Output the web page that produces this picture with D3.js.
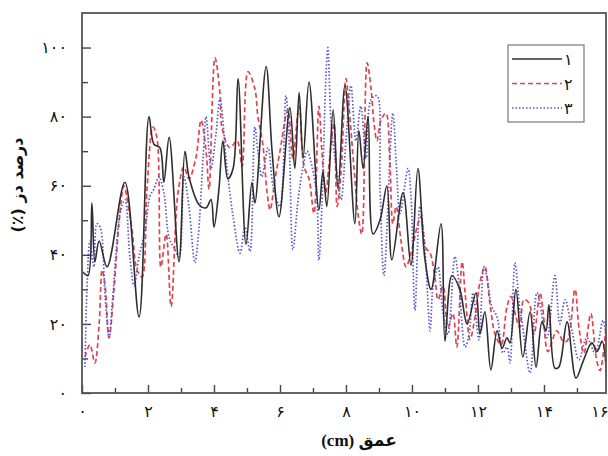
<!DOCTYPE html>
<html>
<head>
<meta charset="utf-8">
<script src="https://cdn.jsdelivr.net/npm/d3@7"></script>
<style>
  body { margin: 0; background: #fff; }
  svg { display: block; }
</style>
</head>
<body>
<svg id="chart" width="608" height="456"></svg>
<script>
// series 1 (solid black)
var depth1 = [0.03,0.18,0.30,0.39,0.52,0.76,1.30,1.73,2.03,2.18,2.36,2.48,2.64,2.94,3.12,3.24,3.55,3.76,3.91,4.00,4.15,4.27,4.42,4.58,4.73,4.97,5.15,5.24,5.58,5.76,5.97,6.30,6.45,6.58,6.70,6.88,7.18,7.30,7.42,7.61,7.76,7.97,8.27,8.39,8.52,8.67,8.82,9.03,9.24,9.39,9.73,9.97,10.18,10.39,10.58,10.88,11.00,11.21,11.45,11.67,11.94,12.06,12.21,12.39,12.58,12.73,12.88,12.97,13.15,13.36,13.58,13.76,13.94,14.06,14.15,14.33,14.45,14.70,14.97,15.18,15.45,15.61,15.76,15.91];
var dose1 = [35,34,55,38,44,36.5,61,22,80,72,71,61,74,38,70,62.6,54.5,53.6,56,48,59,73,62,65,91,43,61,55,94.5,70,51,82.6,65,87,68,90,53,64,54,82,59,89,49,76,65,80,46,50,60,38.5,58,37,65,39,30,49,15,34,30,20,29,17,23.5,6.7,18,13,16,14.5,30,10.4,23.5,7.5,20.6,18,25.5,7.2,7.5,20.6,4.3,9,14.5,12,15,3];

// series 2 (dashed red)
var depth2 = [0.09,0.24,0.39,0.52,0.61,0.70,0.82,0.97,1.12,1.27,1.42,1.52,1.67,1.82,1.97,2.15,2.27,2.39,2.55,2.70,2.91,3.09,3.24,3.45,3.61,3.76,3.85,4.03,4.18,4.24,4.48,4.70,4.85,5.03,5.24,5.33,5.48,5.61,5.70,5.85,6.00,6.24,6.39,6.58,6.73,6.88,7.03,7.18,7.27,7.39,7.48,7.64,7.73,7.85,8.00,8.09,8.24,8.39,8.48,8.64,8.76,8.85,8.94,9.06,9.21,9.33,9.42,9.52,9.67,9.82,9.97,10.18,10.27,10.42,10.55,10.70,10.79,10.94,11.09,11.24,11.36,11.52,11.61,11.76,11.91,12.06,12.21,12.36,12.52,12.70,12.88,13.00,13.15,13.27,13.39,13.55,13.70,13.88,13.97,14.12,14.39,14.58,14.70,14.94,15.06,15.21,15.42,15.58,15.70,15.88];
var dose2 = [10.4,14,8.7,20,35.6,31,16,30,49,60,53,47,35.6,33.6,59,77,74,36.5,46,25,58,65.5,62,68,79,70,59,97,87,77,71,73,65.5,93,88,80,72,58,53,62,70,82,68,83,65.5,62,52,83,70,58,65.5,78,54,64,91,83,65.5,50,46,95.6,88,78,73,79,81,67,49,54,44,36.5,40.5,49,51,42,40.5,33,27,31,19,23,13.3,38,29,15.5,22,32,36.5,26,17,14,25,28,22,19,27,26,17,29,24,12,18,15,15,30,19,11.5,23,10.4,6.5,19];

// series 3 (dotted blue)
var depth3 = [0.09,0.15,0.24,0.36,0.45,0.55,0.70,0.82,0.91,1.06,1.15,1.30,1.45,1.58,1.73,1.91,2.06,2.18,2.33,2.48,2.64,2.79,2.94,3.09,3.24,3.42,3.52,3.67,3.76,3.91,4.06,4.18,4.39,4.58,4.79,4.94,5.09,5.24,5.33,5.45,5.64,5.79,6.00,6.18,6.27,6.39,6.55,6.70,6.82,7.09,7.18,7.27,7.39,7.45,7.55,7.70,7.85,8.00,8.15,8.30,8.45,8.61,8.76,8.94,9.03,9.15,9.42,9.52,9.64,9.88,9.97,10.09,10.24,10.39,10.55,10.64,10.79,10.94,11.09,11.30,11.42,11.61,11.73,11.85,12.03,12.18,12.27,12.42,12.58,12.76,12.88,12.97,13.12,13.27,13.33,13.58,13.79,14.09,14.33,14.48,14.64,14.85,15.06,15.30,15.55,15.79,15.91];
var dose3 = [7.5,30,44,36.5,49,48,28,16,25,44,52,56,39.5,31,39.5,47,57,59,62.6,58,45,42,39.5,62.6,54,37.7,45,68,80,65,75,85,65.5,51,40.5,48,41,77,70,62.6,71,60,54,86,75,41.5,56,65.5,70,59,38.5,54,91,100,78,65.5,56,73,89,73,83,68,85,86,60,34,81,67,52,65,57,24,54,42,18,31,36.5,23,17,39.5,32,13.3,17,29,15.4,36.5,33.6,25,22,11.6,13.3,8.7,37.7,24,21,5.8,29,16,34,20,27,18,9.6,16,11.6,21,14];

var xTicks = [0, 2, 4, 6, 8, 10, 12, 14, 16];
var xMinor = [1, 3, 5, 7, 9, 11, 13, 15];
var yTicks = [0, 20, 40, 60, 80, 100];
var yMinor = [10, 30, 50, 70, 90];
var seriesNames = ["1", "2", "3"];

var faDigits = "۰۱۲۳۴۵۶۷۸۹";
function fa(n) {
  return String(n).replace(/[0-9]/g, function (c) { return faDigits[+c]; });
}

var mLeft = 82, mRight = 606, mTop = 13, mBottom = 393;
var svg = d3.select("#chart");

var x = d3.scaleLinear().domain([0, 15.88]).range([mLeft, mRight]);
var y = d3.scaleLinear().domain([0, 110]).range([mBottom, mTop]);

svg.append("defs").append("clipPath").attr("id", "plot")
  .append("rect").attr("x", mLeft).attr("y", mTop)
  .attr("width", mRight - mLeft).attr("height", mBottom - mTop);

// axes with inward ticks
var xAxis = svg.append("g").attr("transform", "translate(0," + mBottom + ")")
  .call(d3.axisBottom(x).tickValues(xTicks).tickSize(-8).tickPadding(13).tickFormat(fa));
svg.append("g").attr("transform", "translate(0," + mBottom + ")")
  .call(d3.axisBottom(x).tickValues(xMinor).tickSize(-5).tickFormat(""));
svg.append("g").attr("transform", "translate(" + mLeft + ",0)")
  .call(d3.axisLeft(y).tickValues(yTicks).tickSize(-9).tickPadding(15).tickFormat(fa));
svg.append("g").attr("transform", "translate(" + mLeft + ",0)")
  .call(d3.axisLeft(y).tickValues(yMinor).tickSize(-6).tickFormat(""));

svg.selectAll(".domain").remove();
svg.selectAll(".tick line").attr("stroke", "#444").attr("stroke-width", 1.4);
svg.selectAll(".tick text")
  .attr("font-family", "DejaVu Sans, sans-serif")
  .attr("font-size", 16)
  .attr("fill", "#111");

// last x label sits at the right edge of the picture, pull it inside
xAxis.selectAll(".tick text")
  .filter(function (d) { return d === 16; })
  .attr("text-anchor", "end")
  .attr("x", 608 - x(16));

// lines
var line = d3.line()
  .x(function (d) { return x(d[0]); })
  .y(function (d) { return y(d[1]); })
  .curve(d3.curveCatmullRom.alpha(0.5));

var g = svg.append("g").attr("clip-path", "url(#plot)");

g.append("path")
  .datum(d3.zip(depth2, dose2))
  .attr("fill", "none")
  .attr("stroke", "#e2434f")
  .attr("stroke-width", 1.7)
  .attr("stroke-dasharray", "5,3")
  .attr("d", line);

g.append("path")
  .datum(d3.zip(depth3, dose3))
  .attr("fill", "none")
  .attr("stroke", "#5656cc")
  .attr("stroke-width", 1.7)
  .attr("stroke-dasharray", "1.5,2")
  .attr("d", line);

g.append("path")
  .datum(d3.zip(depth1, dose1))
  .attr("fill", "none")
  .attr("stroke", "#2e2e2e")
  .attr("stroke-width", 1.6)
  .attr("d", line);

// frame
svg.append("rect")
  .attr("x", mLeft).attr("y", mTop)
  .attr("width", mRight - mLeft).attr("height", mBottom - mTop)
  .attr("fill", "none").attr("stroke", "#555").attr("stroke-width", 1.8);

// legend
var legend = svg.append("g");
legend.append("rect")
  .attr("x", 508).attr("y", 45).attr("width", 76).attr("height", 77)
  .attr("fill", "#fff").attr("stroke", "#777").attr("stroke-width", 1.2);
var styles = [
  { stroke: "#2e2e2e", dash: null },
  { stroke: "#e2434f", dash: "5,3" },
  { stroke: "#5656cc", dash: "1.5,2" }
];
seriesNames.forEach(function (name, i) {
  var ly = 59 + i * 24.5;
  legend.append("line")
    .attr("x1", 512).attr("x2", 562).attr("y1", ly).attr("y2", ly)
    .attr("stroke", styles[i].stroke).attr("stroke-width", 1.6)
    .attr("stroke-dasharray", styles[i].dash);
  legend.append("text")
    .attr("x", 564).attr("y", ly + 6)
    .attr("font-family", "DejaVu Sans, sans-serif")
    .attr("font-size", 16)
    .attr("fill", "#111")
    .text(fa(name));
});

// axis titles
svg.append("text")
  .attr("x", 359).attr("y", 446)
  .attr("text-anchor", "middle")
  .style("direction", "rtl")
  .attr("font-family", "Liberation Serif, DejaVu Sans, serif")
  .attr("font-weight", "bold")
  .attr("font-size", 17)
  .attr("fill", "#111")
  .text("عمق (cm)");

svg.append("text")
  .attr("transform", "translate(23,185) rotate(-90)")
  .attr("text-anchor", "middle")
  .style("direction", "rtl")
  .attr("font-family", "DejaVu Sans, sans-serif")
  .attr("font-weight", "bold")
  .attr("font-size", 16)
  .attr("fill", "#111")
  .text("درصد دز (٪)");
</script>
</body>
</html>
